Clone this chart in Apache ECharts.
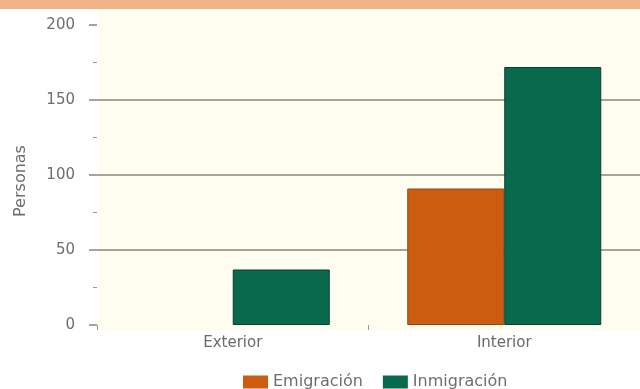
<!DOCTYPE html>
<html>
<head>
<meta charset="utf-8">
<script src="https://cdn.jsdelivr.net/npm/echarts@6/dist/echarts.min.js"></script>
<style>html,body{margin:0;padding:0;background:#fff}#c{width:640px;height:389px}</style>
</head>
<body>
<div id="c"></div>
<script>
const categories = ['Exterior', 'Interior'];
const emigracion = [null, 91];
const inmigracion = [37, 172];
const yTicks = [0, 50, 100, 150, 200];

const chart = echarts.init(document.getElementById('c'), null, {renderer: 'canvas'});
const font = '"DejaVu Sans", sans-serif';
chart.setOption({
  animation: false,
  backgroundColor: '#ffffff',
  graphic: [
    {type: 'rect', z: -10, shape: {x: 0, y: 0, width: 640, height: 9}, style: {fill: '#efb386'}},
    {type: 'rect', z: -10, shape: {x: 98, y: 9, width: 542, height: 321}, style: {fill: '#fffdf0'}}
  ],
  grid: {left: 97, right: -6, top: 25, bottom: 64, containLabel: false},
  legend: {
    left: 238, top: 369,
    itemWidth: 25, itemHeight: 13, itemGap: 20,
    icon: 'rect',
    itemStyle: {borderWidth: 0},
    textStyle: {fontFamily: font, fontSize: 16, color: '#6e6e6e'},
    data: ['Emigración', 'Inmigración']
  },
  xAxis: {
    type: 'category',
    data: categories,
    axisLine: {show: false},
    axisTick: {show: true, length: 5, lineStyle: {color: '#999', width: 1}},
    axisLabel: {margin: 11, fontFamily: font, fontSize: 15, color: '#6a6a6a'}
  },
  yAxis: {
    type: 'value',
    min: yTicks[0], max: yTicks[yTicks.length - 1], interval: 50,
    name: 'Personas',
    nameLocation: 'middle',
    nameGap: 68,
    nameRotate: 90,
    nameTextStyle: {fontFamily: font, fontSize: 16, color: '#6e6e6e', padding: [0, 12, 0, 0]},
    axisLine: {show: false},
    axisTick: {show: true, length: 8, lineStyle: {color: '#8a8778', width: 1.5}},
    minorTick: {show: true, splitNumber: 2, length: 4, lineStyle: {color: '#9a9a9a'}},
    axisLabel: {margin: 22, fontFamily: font, fontSize: 15, color: '#6e6e6e'},
    splitLine: {show: true, lineStyle: {color: ['transparent', '#8a8778', '#8a8778', '#8a8778', 'transparent'], width: 1.5}}
  },
  series: [
    {
      name: 'Emigración', type: 'bar', data: emigracion,
      barWidth: 97, barGap: '0%',
      itemStyle: {color: '#cb5c10', borderColor: '#8a4a1c', borderWidth: 1}
    },
    {
      name: 'Inmigración', type: 'bar', data: inmigracion,
      barWidth: 97, barGap: '0%',
      itemStyle: {color: '#08694c', borderColor: '#0a3d2c', borderWidth: 1}
    }
  ]
});
</script>
</body>
</html>
